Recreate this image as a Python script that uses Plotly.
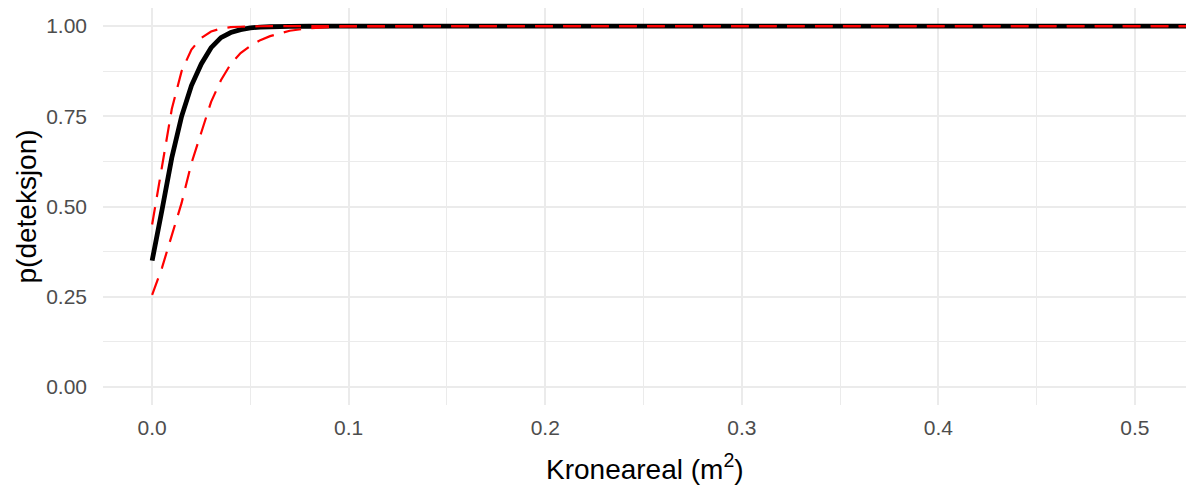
import numpy as np
import plotly.graph_objects as go

# Crown area (m^2) at which the detection curves are sampled
kroneareal = [0.0, 0.005, 0.01, 0.015, 0.02, 0.025, 0.03, 0.035, 0.04, 0.045,
              0.05, 0.055, 0.06, 0.07, 0.08, 0.09, 0.1, 0.2, 0.3, 0.4, 0.5, 0.526]

# Fitted detection probability
p_fit = [0.35, 0.49, 0.635, 0.75, 0.835, 0.895, 0.94, 0.968, 0.982, 0.99,
         0.995, 0.997, 0.998, 0.999, 0.9995, 1.0, 1.0, 1.0, 1.0, 1.0, 1.0, 1.0]

# Upper and lower confidence bounds
p_upper = [0.45, 0.61, 0.77, 0.875, 0.935, 0.967, 0.985, 0.993, 0.997, 0.998,
           0.999, 0.9995, 1.0, 1.0, 1.0, 1.0, 1.0, 1.0, 1.0, 1.0, 1.0, 1.0]
p_lower = [0.255, 0.33, 0.42, 0.51, 0.62, 0.705, 0.79, 0.85, 0.895, 0.925,
           0.945, 0.961, 0.972, 0.987, 0.994, 0.997, 0.999, 1.0, 1.0, 1.0, 1.0, 1.0]

x_ticks = [0.0, 0.1, 0.2, 0.3, 0.4, 0.5]
x_ticklabels = ["0.0", "0.1", "0.2", "0.3", "0.4", "0.5"]
y_ticks = [0.0, 0.25, 0.5, 0.75, 1.0]
y_ticklabels = ["0.00", "0.25", "0.50", "0.75", "1.00"]

FONT = "Liberation Sans, Arial, sans-serif"
GRID = "#EBEBEB"

W, H = 1188, 486
M = dict(l=103, r=2, t=8, b=81)
X_RANGE = [-0.025, 0.526]
Y_RANGE = [-0.05, 1.05]
PW = W - M["l"] - M["r"]
PH = H - M["t"] - M["b"]


def pixel_length(xs, ys):
    """Length of a polyline in screen pixels inside the plot area."""
    px = (np.asarray(xs) - X_RANGE[0]) / (X_RANGE[1] - X_RANGE[0]) * PW
    py = (np.asarray(ys) - Y_RANGE[0]) / (Y_RANGE[1] - Y_RANGE[0]) * PH
    return float(np.hypot(np.diff(px), np.diff(py)).sum())


# Pick a dash period so both bounds dash in step where they overlap at 1.0
diff = abs(pixel_length(kroneareal, p_lower) - pixel_length(kroneareal, p_upper))
period = diff / max(1, round(diff / 19.0))
dash = f"{period * 0.63:.2f}px,{period * 0.37:.2f}px"

fig = go.Figure()
fig.add_trace(go.Scatter(x=kroneareal, y=p_fit, mode="lines",
                         line=dict(color="black", width=4.8, simplify=False),
                         showlegend=False))
for bound in (p_upper, p_lower):
    fig.add_trace(go.Scatter(x=kroneareal, y=bound, mode="lines",
                             line=dict(color="#FF0000", width=2.2, dash=dash, simplify=False),
                             showlegend=False))

fig.update_layout(
    width=W, height=H,
    margin=M,
    plot_bgcolor="white", paper_bgcolor="white",
    font=dict(family=FONT),
    xaxis=dict(range=X_RANGE, tickvals=x_ticks, ticktext=x_ticklabels,
               showgrid=True, gridcolor=GRID, gridwidth=2.4, zeroline=False,
               showline=False, ticks="", ticklabelstandoff=8,
               tickfont=dict(size=21, color="#4D4D4D", family=FONT),
               minor=dict(dtick=0.05, tick0=0, showgrid=True, gridcolor=GRID, gridwidth=1.3)),
    yaxis=dict(range=Y_RANGE, tickvals=y_ticks, ticktext=y_ticklabels,
               showgrid=True, gridcolor=GRID, gridwidth=2.4, zeroline=False,
               showline=False, ticks="", ticklabelstandoff=15,
               tickfont=dict(size=21, color="#4D4D4D", family=FONT),
               minor=dict(dtick=0.125, tick0=0, showgrid=True, gridcolor=GRID, gridwidth=1.3)),
    annotations=[
        dict(text="Kroneareal (m<sup>2</sup>)", xref="paper", yref="paper",
             x=0.5, y=-0.156, xanchor="center", yanchor="middle", showarrow=False,
             font=dict(size=28, color="black", family=FONT)),
        dict(text="p(deteksjon)", xref="paper", yref="paper",
             x=(26 - M["l"]) / PW, y=0.5, xanchor="center", yanchor="middle",
             textangle=-90, showarrow=False,
             font=dict(size=28, color="black", family=FONT)),
    ],
)

fig.write_html("out.html")
